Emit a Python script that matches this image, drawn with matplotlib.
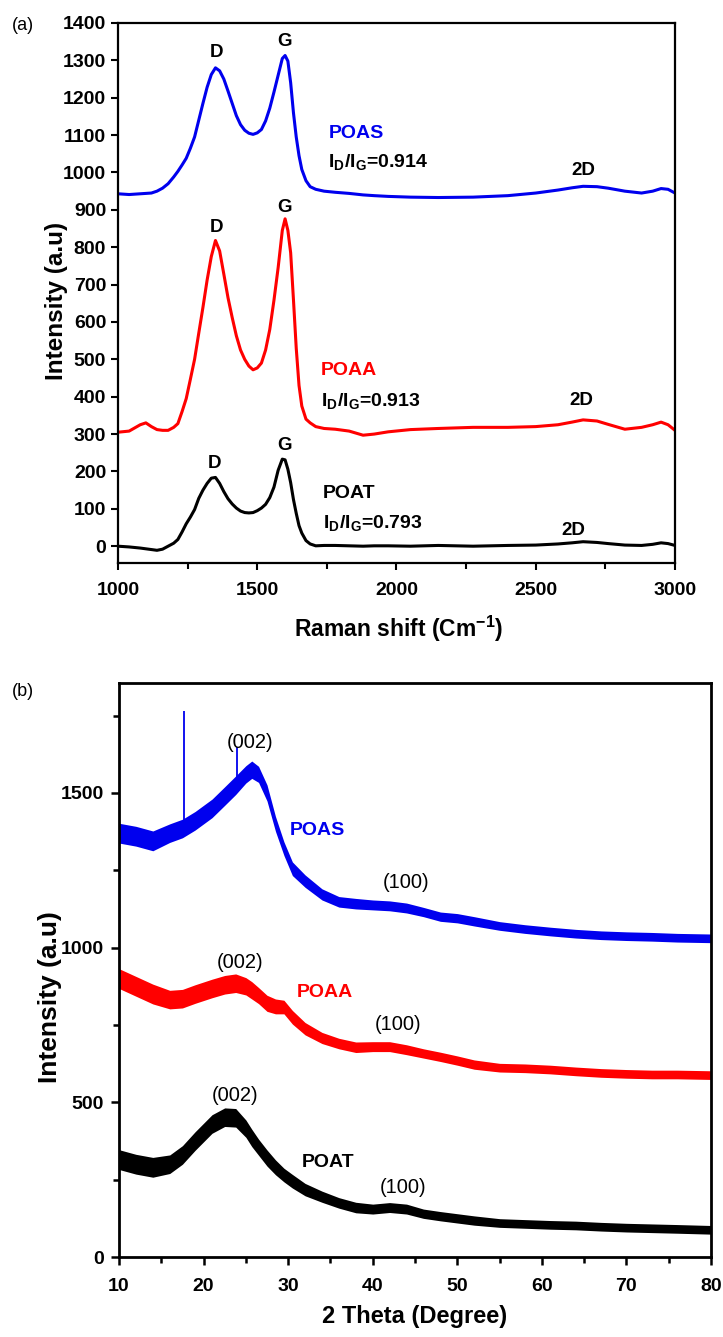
import numpy as np
import matplotlib
matplotlib.use("Agg")
import matplotlib.pyplot as plt

plt.rcParams['font.family'] = ['Liberation Sans', 'DejaVu Sans']

# ---- Raman data (a) ----
raman_shift = [1000, 1040, 1080, 1100, 1120, 1140, 1160, 1180, 1200,
               1215, 1230, 1245, 1260, 1275, 1290, 1305, 1320, 1335, 1350, 1365, 1380, 1395,
               1410, 1425, 1440, 1455, 1470, 1485, 1500, 1515, 1530, 1545, 1560, 1575, 1590,
               1600, 1610, 1620, 1630, 1640, 1650, 1660,
               1675, 1690, 1710, 1740, 1780, 1830, 1880, 1920, 1970, 2050, 2150, 2275, 2400,
               2500, 2580, 2630, 2670, 2720, 2760, 2820, 2880, 2920, 2950, 2975, 3000]
raman_poas = [943, 941, 943, 944, 945, 950, 958, 970, 988,
              1003, 1020, 1038, 1065, 1095, 1140, 1185, 1228, 1262, 1280, 1272, 1250, 1218,
              1185, 1152, 1128, 1113, 1105, 1102, 1106, 1115, 1138, 1172, 1215, 1260, 1305,
              1313, 1298, 1240, 1160, 1095, 1045, 1008,
              978, 962, 955, 950, 947, 944, 940, 938, 936, 934, 933, 934, 938,
              945, 953, 959, 963, 962, 958, 950, 945, 950, 957, 955, 945]
raman_poaa = [305, 308, 325, 330, 320, 312, 310, 310, 318,
              328, 360, 395, 447, 500, 570, 639, 712, 775, 818, 790, 728, 665,
              612, 563, 525, 500, 482, 472, 477, 490, 525, 580, 658, 745, 845,
              876, 845, 785, 660, 530, 430, 375,
              340, 330, 320, 315, 313, 308, 297, 300, 306, 312, 315, 318, 318,
              320, 325, 332, 338, 335, 326, 313, 318, 325, 332, 325, 310]
raman_poat = [0, -2, -5, -7, -9, -11, -8, 0, 8,
              18, 38, 60, 78, 98, 128, 150, 168, 182, 184, 168, 146, 127,
              113, 102, 94, 90, 89, 90, 95, 102, 112, 130, 158, 203, 233,
              231, 206, 170, 125, 88, 55, 35,
              15, 6, 1, 2, 2, 1, 0, 1, 1, 0, 2, 0, 2,
              3, 6, 9, 12, 10, 7, 3, 2, 5, 9, 7, 2]

# ---- XRD data (b) ----
two_theta = [10, 12, 14, 16, 17.5, 19, 21, 22.5, 23.8, 25,
             25.7, 26.5, 27.5, 28.5, 29.5, 30.5, 32, 34, 36, 38, 40, 42, 44, 46, 48,
             50, 52, 55, 58, 61, 64, 67, 70, 73, 76, 80]
xrd_poas = [1370, 1360, 1345, 1370, 1385, 1410, 1450, 1490, 1525, 1560,
            1575, 1560, 1500, 1400, 1320, 1255, 1215, 1172, 1148, 1142, 1138, 1135, 1128, 1115, 1100,
            1095, 1085, 1070, 1060, 1052, 1045, 1040, 1037, 1035, 1032, 1030]
xrd_poaa = [900, 875, 850, 832, 835, 850, 868, 880, 885, 875,
            862, 845, 820, 810, 808, 775, 738, 708, 690, 678, 680, 680, 670, 658, 647,
            635, 622, 612, 610, 606, 600, 595, 592, 590, 590, 588]
xrd_poat = [315, 300, 290, 300, 330, 375, 430, 452, 450, 415,
            385, 355, 320, 290, 265, 245, 218, 195, 175, 160, 155, 160, 155, 140, 132,
            125, 118, 110, 107, 104, 102, 98, 95, 93, 91, 88]
# half-width of the noise band around each trace
xrd_noise = [32, 32, 32, 30, 30, 30, 30, 30, 30, 28,
             28, 26, 26, 24, 22, 22, 20, 18, 17, 17, 16, 16, 16, 15, 15,
             15, 15, 14, 14, 14, 14, 14, 14, 14, 14, 14]
# sharp spikes on the POAS pattern
spike_theta = [17.7, 24.0]
spike_base = [1385, 1530]
spike_top = [1764, 1648]

fig = plt.figure(figsize=(7.23, 13.37), dpi=100)

# ---------------- panel (a) ----------------
ax1 = fig.add_axes([0.1632, 0.5789, 0.7704, 0.4039])
ax1.plot(raman_shift, raman_poas, color='#0000ee', lw=2.2)
ax1.plot(raman_shift, raman_poaa, color='#ff0000', lw=2.2)
ax1.plot(raman_shift, raman_poat, color='black', lw=2.2)
ax1.set_xlim(1000, 3000)
ax1.set_ylim(-45, 1400)
ax1.set_xticks([1000, 1500, 2000, 2500, 3000])
ax1.set_xticks([1250, 1750, 2250, 2750], minor=True)
ax1.set_yticks(range(0, 1401, 100))
for lab in ax1.get_xticklabels() + ax1.get_yticklabels():
    lab.set_fontweight('bold')
ax1.tick_params(axis='both', which='major', labelsize=14, width=1.5, length=5, direction='out')
ax1.tick_params(axis='x', which='major', pad=9)
ax1.tick_params(axis='x', which='minor', width=1.5, length=4, direction='out')
for sp in ax1.spines.values():
    sp.set_linewidth(1.6)
ax1.set_xlabel('Raman shift (Cm$^{\\mathregular{-1}}$)', fontsize=16.5, fontweight='bold', va='top')
ax1.xaxis.set_label_coords(0.504, -0.094)
ax1.set_ylabel('Intensity (a.u)', fontsize=17.5, fontweight='bold', va='center')
ax1.yaxis.set_label_coords(-0.111, 0.485)

txt = dict(fontsize=13.5, fontweight='bold', ha='center', va='center')
ax1.text(1352, 1322, 'D', **txt)
ax1.text(1597, 1350, 'G', **txt)
ax1.text(1352, 853, 'D', **txt)
ax1.text(1597, 907, 'G', **txt)
ax1.text(1345, 222, 'D', **txt)
ax1.text(1597, 270, 'G', **txt)
ax1.text(2670, 1006, '2D', **txt)
ax1.text(2665, 390, '2D', **txt)
ax1.text(2635, 43, '2D', **txt)

side = dict(fontsize=14, fontweight='bold', ha='left', va='center')
ax1.text(1755, 1105, 'POAS', color='#0000ee', **side)
ax1.text(1755, 1025, 'I$_\\mathregular{D}$/I$_\\mathregular{G}$=0.914', **side)
ax1.text(1728, 470, 'POAA', color='#ff0000', **side)
ax1.text(1728, 385, 'I$_\\mathregular{D}$/I$_\\mathregular{G}$=0.913', **side)
ax1.text(1735, 140, 'POAT', **side)
ax1.text(1735, 60, 'I$_\\mathregular{D}$/I$_\\mathregular{G}$=0.793', **side)

fig.text(12 / 723, 1 - 26 / 1337, '(a)', fontsize=13, ha='left', va='center')

# ---------------- panel (b) ----------------
ax2 = fig.add_axes([0.1646, 0.0598, 0.8188, 0.4293])
tt = np.array(two_theta)
noise = np.array(xrd_noise)
ax2.vlines(spike_theta, spike_base, spike_top, color='#0000ee', lw=1.3)
for vals, col in [(xrd_poas, '#0000ee'), (xrd_poaa, '#ff0000'), (xrd_poat, 'black')]:
    v = np.array(vals)
    ax2.fill_between(tt, v - noise, v + noise, color=col, lw=0)
    ax2.plot(tt, v, color=col, lw=1.2)
ax2.set_xlim(10, 80)
ax2.set_ylim(0, 1855)
ax2.set_xticks(range(10, 81, 10))
ax2.set_xticks(range(15, 80, 10), minor=True)
ax2.set_yticks([0, 500, 1000, 1500])
ax2.set_yticks([250, 750, 1250, 1750], minor=True)
for lab in ax2.get_xticklabels() + ax2.get_yticklabels():
    lab.set_fontweight('bold')
ax2.tick_params(axis='both', which='major', labelsize=14, width=1.8, length=6, direction='out')
ax2.tick_params(axis='x', which='major', pad=9)
ax2.tick_params(axis='y', which='major', pad=5)
ax2.tick_params(axis='both', which='minor', width=1.8, length=4, direction='out')
for sp in ax2.spines.values():
    sp.set_linewidth(2.0)
ax2.set_xlabel('2 Theta (Degree)', fontsize=17, fontweight='bold', va='top')
ax2.xaxis.set_label_coords(0.5, -0.083)
ax2.set_ylabel('Intensity (a.u)', fontsize=19, fontweight='bold', va='center')
ax2.yaxis.set_label_coords(-0.1166, 0.453)

lbl = dict(fontsize=14.5, ha='center', va='center')
ax2.text(25.5, 1664, '(002)', **lbl)
ax2.text(44.0, 1212, '(100)', **lbl)
ax2.text(24.3, 953, '(002)', **lbl)
ax2.text(43.0, 752, '(100)', **lbl)
ax2.text(23.7, 523, '(002)', **lbl)
ax2.text(43.6, 226, '(100)', **lbl)
nm = dict(fontsize=14, fontweight='bold', ha='left', va='center')
ax2.text(30.2, 1380, 'POAS', color='#0000ee', **nm)
ax2.text(31.0, 856, 'POAA', color='#ff0000', **nm)
ax2.text(31.6, 307, 'POAT', color='black', **nm)

fig.text(12 / 723, 1 - 692 / 1337, '(b)', fontsize=13, ha='left', va='center')

fig.savefig('out.png', dpi=100)
